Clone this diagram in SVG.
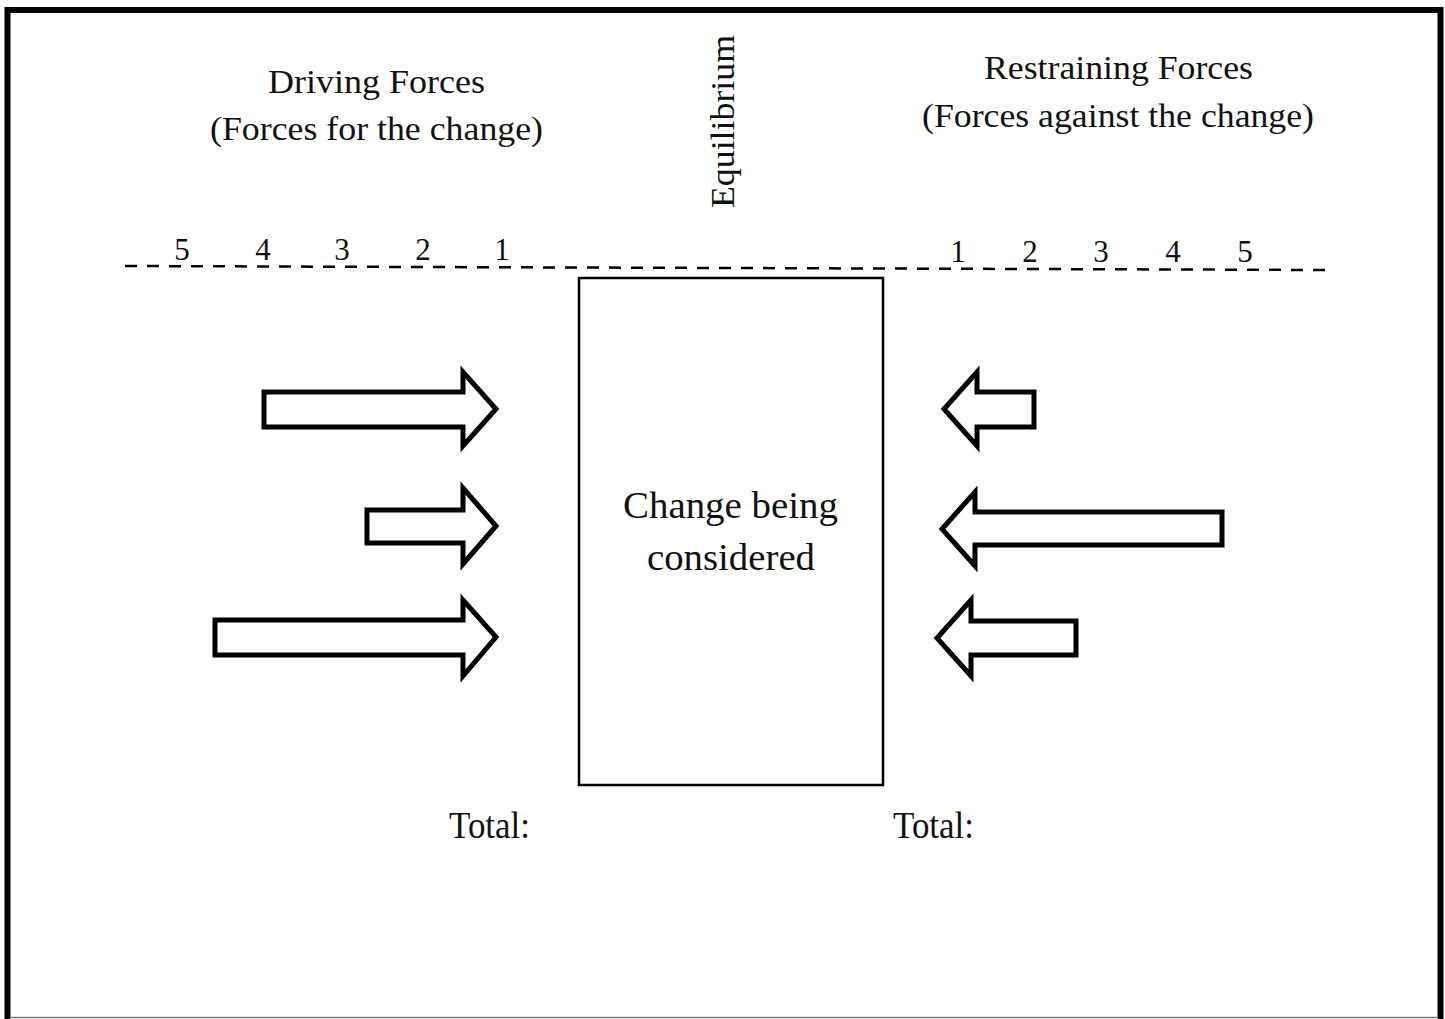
<svg xmlns="http://www.w3.org/2000/svg" width="1445" height="1019" viewBox="0 0 1445 1019">
<style>
.serif{font-family:"Liberation Serif","Times New Roman",serif;fill:#111}
.big{font-size:34px}
.mid{font-size:37px}
.num{font-size:31px;text-anchor:middle}
.arrow{fill:#fff;stroke:#000;stroke-width:5;stroke-linejoin:miter}
</style>
<rect x="0" y="0" width="1445" height="1019" fill="#fff"/>
<rect x="7.5" y="10" width="1433" height="1030" fill="none" stroke="#000" stroke-width="6"/>
<line x1="10" y1="1017.5" x2="1438" y2="1017.5" stroke="#777" stroke-width="1.5"/>
<g id="headers">
<text class="serif big" x="268" y="93" textLength="217" lengthAdjust="spacingAndGlyphs">Driving Forces</text>
<text class="serif big" x="210" y="140" textLength="333" lengthAdjust="spacingAndGlyphs">(Forces for the change)</text>
<text class="serif big" x="984" y="79" textLength="269" lengthAdjust="spacingAndGlyphs">Restraining Forces</text>
<text class="serif big" x="922" y="127" textLength="392" lengthAdjust="spacingAndGlyphs">(Forces against the change)</text>
<text class="serif big" transform="translate(734,208) rotate(-90)" textLength="173" lengthAdjust="spacingAndGlyphs">Equilibrium</text>
</g>
<g id="scale">
<line x1="125" y1="266" x2="1328" y2="270" stroke="#000" stroke-width="2.5" stroke-dasharray="12 10"/>
<text class="serif num" x="182" y="260">5</text>
<text class="serif num" x="263" y="260">4</text>
<text class="serif num" x="342" y="260">3</text>
<text class="serif num" x="423" y="260">2</text>
<text class="serif num" x="502" y="260">1</text>
<text class="serif num" x="958" y="262">1</text>
<text class="serif num" x="1030" y="262">2</text>
<text class="serif num" x="1101" y="262">3</text>
<text class="serif num" x="1173" y="262">4</text>
<text class="serif num" x="1245" y="262">5</text>
</g>
<g id="change">
<rect x="579" y="278" width="304" height="507" fill="#fff" stroke="#000" stroke-width="2.5"/>
<text class="serif mid" x="623" y="518" textLength="215" lengthAdjust="spacingAndGlyphs">Change being</text>
<text class="serif mid" x="647" y="570" textLength="168" lengthAdjust="spacingAndGlyphs">considered</text>
</g>
<g id="connectors">
<polygon id="d1" class="arrow" points="264,392 463,392 463,372 496,409 463,446 463,427 264,427"/>
<polygon id="d2" class="arrow" points="367,510 463,510 463,488 496,526 463,564 463,543 367,543"/>
<polygon id="d3" class="arrow" points="215,620 463,620 463,600 496,637 463,676 463,655 215,655"/>
<polygon id="r1" class="arrow" points="1034,392 977,392 977,372 944,409 977,446 977,427 1034,427"/>
<polygon id="r2" class="arrow" points="1222,512 975,512 975,492 942,529 975,566 975,545 1222,545"/>
<polygon id="r3" class="arrow" points="1076,621 971,621 971,600 937,638 971,676 971,655 1076,655"/>
</g>
<g id="totals">
<text class="serif mid" x="449" y="838" textLength="81" lengthAdjust="spacingAndGlyphs">Total:</text>
<text class="serif mid" x="893" y="838" textLength="81" lengthAdjust="spacingAndGlyphs">Total:</text>
</g>
</svg>
